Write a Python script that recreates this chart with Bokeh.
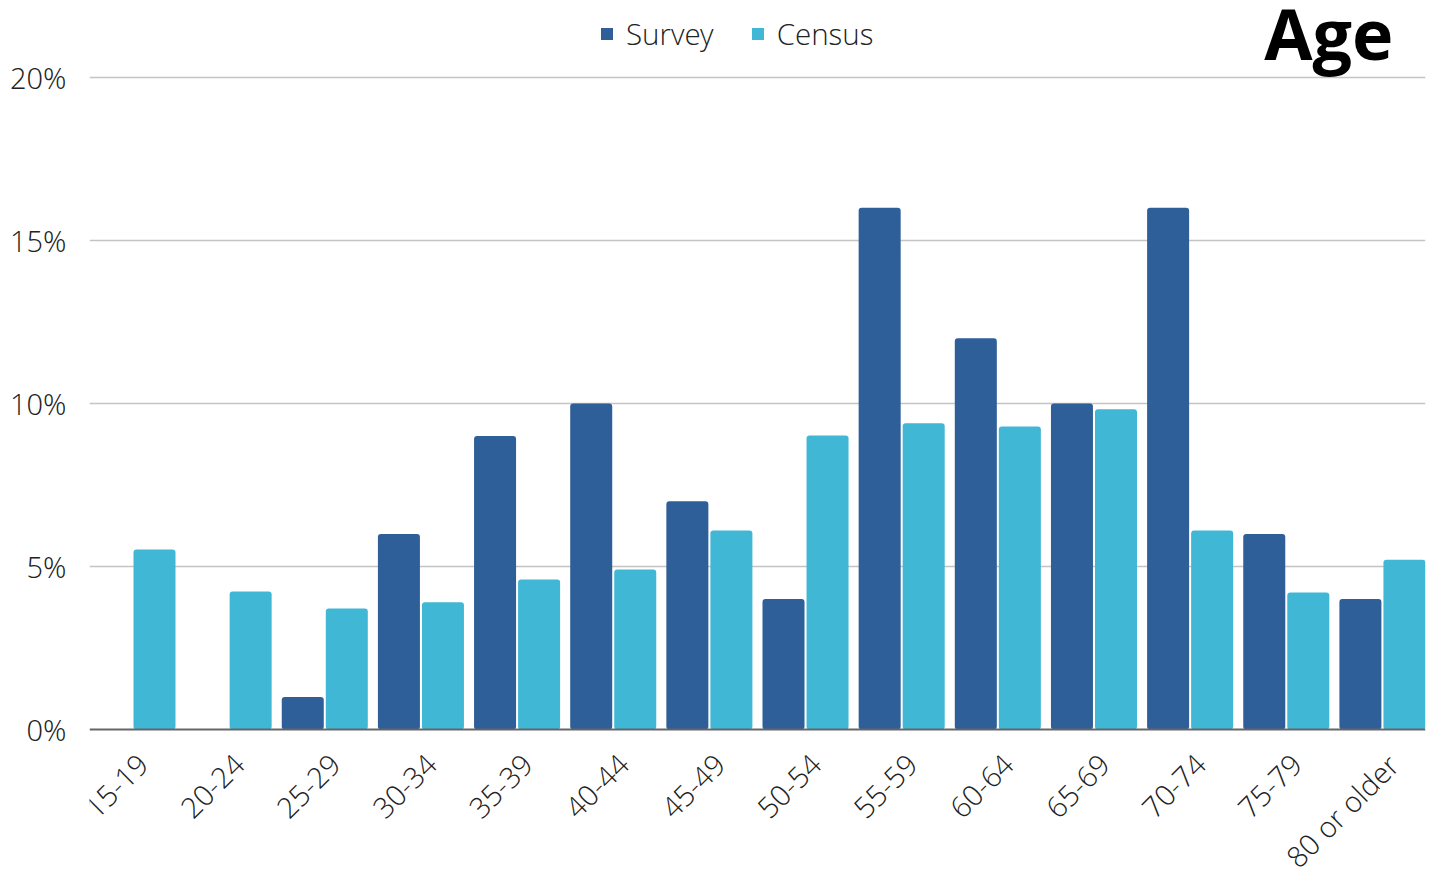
import numpy as np
from bokeh.plotting import figure
from bokeh.models import (ColumnDataSource, Range1d, FixedTicker, Label, LabelSet,
                          Legend, LegendItem, Span)
from bokeh.core.properties import value
from bokeh.embed import file_html
from bokeh.resources import INLINE

categories = ["15-19", "20-24", "25-29", "30-34", "35-39", "40-44", "45-49",
              "50-54", "55-59", "60-64", "65-69", "70-74", "75-79", "80 or older"]
survey = [0, 0, 1, 6, 9, 10, 7, 4, 16, 12, 10, 16, 6, 4]
census = [5.52, 4.23, 3.71, 3.90, 4.60, 4.91, 6.10, 9.02, 9.39, 9.29, 9.82, 6.10, 4.20, 5.21]
y_ticks = [0, 5, 10, 15, 20]
y_tick_labels = ["0%", "5%", "10%", "15%", "20%"]

SURVEY_C = "#2e5f98"
CENSUS_C = "#41b7d6"
FONT = "Open Sans Light, Open Sans"
BOLD_FONT = "Open Sans"

idx = np.arange(len(categories))
off = 0.229
w = 0.437
src = ColumnDataSource(dict(xs=idx - off, xc=idx + off, survey=survey, census=census))
lab_src = ColumnDataSource(dict(x=idx + 0.11, label=categories))

p = figure(width=1430, height=870, output_backend="svg", toolbar_location=None,
           x_range=Range1d(-0.447, 13.448), y_range=Range1d(-4.325, 22.36),
           min_border_left=89, min_border_right=5, min_border_top=0, min_border_bottom=0)
p.outline_line_color = None
p.background_fill_color = "white"
p.xaxis.visible = False

r1 = p.vbar(x="xs", top="survey", bottom=0, width=w, source=src, fill_color=SURVEY_C,
            line_color=None, border_radius=3)
r2 = p.vbar(x="xc", top="census", bottom=0, width=w, source=src, fill_color=CENSUS_C,
            line_color=None, border_radius=3)

# baseline (0%) drawn as a dark rule
p.add_layout(Span(location=0, dimension="width", line_color="#666666", line_width=2))

# rotated category labels below the baseline
cat_labels = LabelSet(x="x", y=-0.92, text="label", source=lab_src, angle=np.pi / 4,
                      text_align="right", text_baseline="middle",
                      text_font=value(FONT), text_font_size=value("29px"),
                      text_color="#222222")
p.add_layout(cat_labels)

p.yaxis.ticker = FixedTicker(ticks=y_ticks)
p.yaxis.major_label_overrides = {t: l for t, l in zip(y_ticks, y_tick_labels)}
p.yaxis.major_label_text_font = FONT
p.yaxis.major_label_text_font_size = "29px"
p.yaxis.major_label_text_color = "#222222"
p.yaxis.major_tick_line_color = None
p.yaxis.minor_tick_line_color = None
p.yaxis.axis_line_color = None
p.yaxis.major_label_standoff = 17

p.xgrid.grid_line_color = None
p.ygrid.ticker = FixedTicker(ticks=y_ticks[1:])
p.ygrid.grid_line_color = "#c4c4c4"
p.ygrid.grid_line_width = 1.5

legend = Legend(items=[LegendItem(label="Survey", renderers=[r1]),
                       LegendItem(label="Census", renderers=[r2])],
                location=(510, 816), orientation="horizontal",
                label_text_font=FONT, label_text_font_size="29.5px", label_text_color="#222222",
                glyph_width=15, glyph_height=15, label_standoff=12, spacing=36,
                padding=0, margin=0, border_line_color=None, background_fill_alpha=0)
p.add_layout(legend, "center")

title = Label(x=13.115, y=21.37, text="Age", text_align="right", text_baseline="alphabetic",
              text_font=BOLD_FONT, text_font_style="bold", text_font_size="70px",
              text_color="black")
p.add_layout(title)

open("out.html", "w").write(file_html(p, INLINE))
